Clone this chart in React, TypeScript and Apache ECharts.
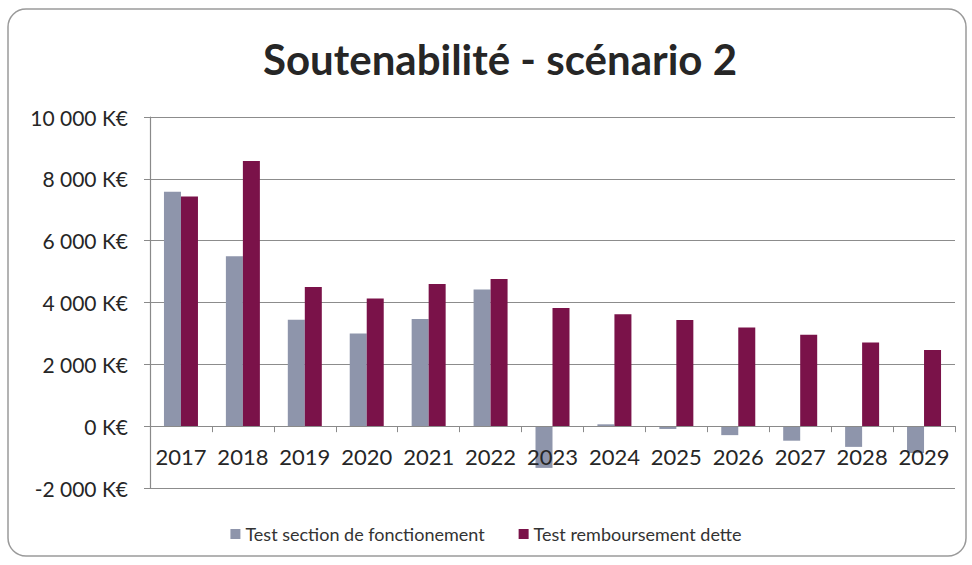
import React, { useEffect, useRef } from "react";
import * as echarts from "echarts";

const categories = ["2017", "2018", "2019", "2020", "2021", "2022", "2023", "2024", "2025", "2026", "2027", "2028", "2029"];
const fonctionnement = [7580, 5500, 3440, 3000, 3470, 4420, -1350, 60, -90, -290, -470, -670, -870];
const remboursement = [7430, 8580, 4500, 4130, 4600, 4760, 3820, 3620, 3430, 3190, 2960, 2710, 2460];
const yTicks = { min: -2000, max: 10000, interval: 2000 };

const fmt = (v: number) => {
  const s = Math.abs(v).toString().replace(/\B(?=(\d{3})+(?!\d))/g, " ");
  return (v < 0 ? "-" : "") + s + " K€";
};

const GRID_TOP = 117;
const GRID_BOTTOM_PX = 488;

export default function App() {
  const ref = useRef<HTMLDivElement>(null);
  useEffect(() => {
    const chart = echarts.init(ref.current!, null, { renderer: "svg" });
    const font = "Lato, 'Noto Sans', sans-serif";
    const plotH = GRID_BOTTOM_PX - GRID_TOP;
    const zeroOffset = -plotH * (0 - yTicks.min) / (yTicks.max - yTicks.min);
    chart.setOption({
      animation: false,
      backgroundColor: "#ffffff",
      textStyle: { fontFamily: font },
      graphic: [
        {
          type: "rect",
          shape: { x: 8, y: 9, width: 958, height: 547, r: 18 },
          style: { fill: "none", stroke: "#9a9a9a", lineWidth: 1.5 },
          silent: true,
        },
      ],
      title: {
        text: "Soutenabilité - scénario 2",
        left: 495,
        textAlign: "center",
        top: 33,
        textStyle: { fontFamily: font, fontSize: 42, fontWeight: "bold", color: "#262626" },
      },
      legend: {
        bottom: 17,
        left: "center",
        itemWidth: 10,
        itemHeight: 10,
        itemGap: 34,
        icon: "rect",
        textStyle: { fontFamily: font, fontSize: 18, color: "#333" },
        data: ["Test section de fonctionement", "Test remboursement dette"],
      },
      grid: { left: 150, right: 17, top: GRID_TOP, bottom: 565 - GRID_BOTTOM_PX },
      xAxis: {
        type: "category",
        data: categories,
        position: "bottom",
        offset: zeroOffset,
        z: 5,
        axisLine: { onZero: false, lineStyle: { color: "#8a8a8a", width: 1.2 } },
        axisTick: { show: true, length: 6, lineStyle: { color: "#8a8a8a" } },
        axisLabel: { fontFamily: font, fontSize: 22, color: "#262626", margin: 19, interval: 0, hideOverlap: false },
      },
      yAxis: {
        type: "value",
        min: yTicks.min,
        max: yTicks.max,
        interval: yTicks.interval,
        axisLine: { show: true, lineStyle: { color: "#8a8a8a", width: 1.2 } },
        axisTick: { show: true, length: 6, lineStyle: { color: "#8a8a8a" } },
        splitLine: { lineStyle: { color: "#8c8c8c", width: 1 } },
        axisLabel: { fontFamily: font, fontSize: 21, color: "#262626", margin: 22, formatter: fmt },
      },
      series: [
        {
          name: "Test section de fonctionement",
          type: "bar",
          data: fonctionnement,
          barWidth: 17,
          barGap: "0%",
          itemStyle: { color: "#8e95ab" },
        },
        {
          name: "Test remboursement dette",
          type: "bar",
          data: remboursement,
          barWidth: 17,
          barGap: "0%",
          itemStyle: { color: "#7a1249" },
        },
      ],
    });
    return () => chart.dispose();
  }, []);
  return <div ref={ref} style={{ width: 972, height: 565, position: "absolute", left: 0, top: 0 }} />;
}
